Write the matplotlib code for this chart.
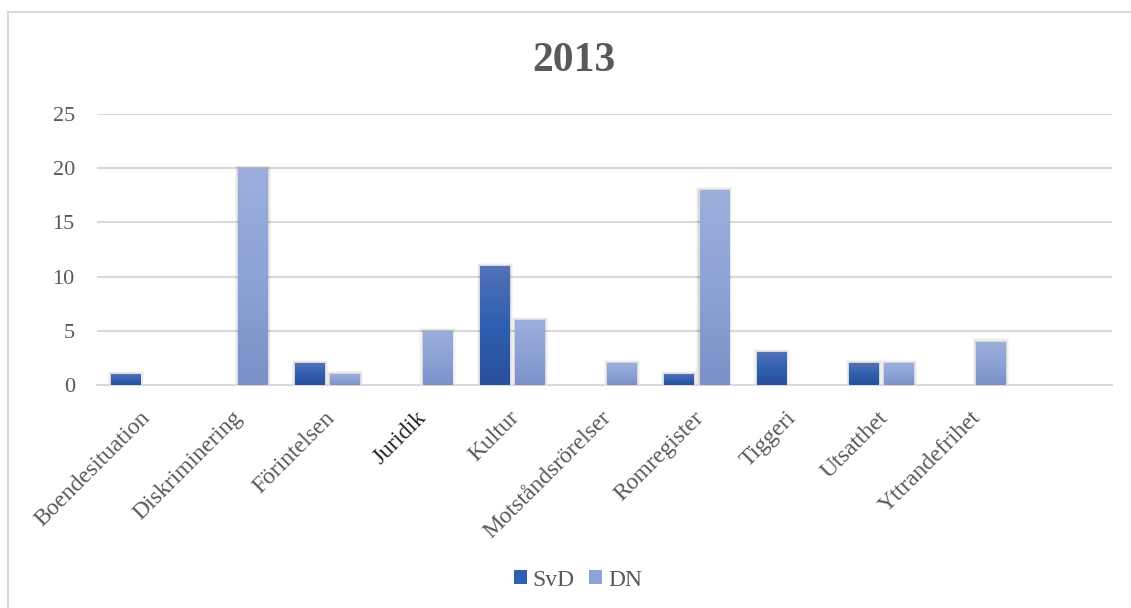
import numpy as np
import matplotlib
matplotlib.use("Agg")
import matplotlib.pyplot as plt
import matplotlib.transforms as mtransforms
from matplotlib.colors import LinearSegmentedColormap
from matplotlib.patches import Rectangle

# data
categories = ["Boendesituation", "Diskriminering", "Förintelsen", "Juridik", "Kultur",
              "Motståndsrörelser", "Romregister", "Tiggeri", "Utsatthet", "Yttrandefrihet", ""]
svd = [1, 0, 2, 0, 11, 0, 1, 3, 2, 0, 0]
dn = [0, 20, 1, 5, 6, 2, 18, 0, 2, 4, 0]
yticks = [0, 5, 10, 15, 20, 25]

plt.rcParams["font.family"] = ["Liberation Serif", "DejaVu Serif"]
text_col = "#595959"

fig = plt.figure(figsize=(11.31, 6.08), dpi=100)
ax = fig.add_axes([97 / 1131, 1 - 385 / 608, (1112 - 97) / 1131, (385 - 114) / 608])

x = np.arange(len(categories))
w = 0.32
off = 0.19

svd_cmap = LinearSegmentedColormap.from_list("svd", ["#2a4f9c", "#2f5fb0", "#5472b8"])
dn_cmap = LinearSegmentedColormap.from_list("dn", ["#7b90c6", "#8da2d6", "#9cafdb"])


def draw_bars(xs, vals, cmap, base):
    bars = ax.bar(xs, vals, w, color=base, zorder=3, linewidth=0)
    for b in bars:
        h = b.get_height()
        if h <= 0:
            continue
        x0 = b.get_x()
        # soft shadow around the bar
        for k, a in enumerate([0.08, 0.05, 0.03]):
            d = 0.012 * (k + 1)
            ax.add_patch(Rectangle((x0 - d, 0), w + 2 * d, h + 0.1 * (k + 1),
                                   color="#000000", alpha=a, lw=0, zorder=2))
        grad = np.linspace(0, 1, 256).reshape(-1, 1)
        im = ax.imshow(grad, cmap=cmap, aspect="auto", origin="lower",
                       extent=[x0, x0 + w, 0, h], zorder=4)
        im.set_clip_path(b)
    return bars


b1 = draw_bars(x - off, svd, svd_cmap, "#2f5fb0")
b2 = draw_bars(x + off, dn, dn_cmap, "#8da2d6")

ax.set_xlim(-0.5, len(categories) - 0.5)
ax.set_ylim(0, 25)
ax.set_yticks(yticks)
ax.yaxis.grid(True, color="#d9d9d9", lw=1.5, zorder=0)
ax.set_axisbelow(True)
for s in ["top", "right", "left"]:
    ax.spines[s].set_visible(False)
ax.spines["bottom"].set_color("#d9d9d9")
ax.spines["bottom"].set_linewidth(1.5)
ax.tick_params(axis="y", length=0, pad=16, labelsize=16, labelcolor=text_col)
ax.tick_params(axis="x", length=0, pad=16)
ax.set_xticks(x)
ax.set_xticklabels(categories, rotation=45, ha="right", va="top", rotation_mode="anchor",
                   fontsize=17, color=text_col)
shift = mtransforms.ScaledTranslation(-4 / 100, 0, fig.dpi_scale_trans)
for lbl in ax.get_xticklabels():
    lbl.set_transform(lbl.get_transform() + shift)
    if lbl.get_text() == "Juridik":
        lbl.set_color("#262626")

fig.text(574 / 1131, 1 - 61 / 608, "2013", ha="center", va="center",
         fontsize=30, fontweight="bold", color=text_col)

leg = fig.legend([b1, b2], ["SvD", "DN"], loc="center", ncol=2,
                 bbox_to_anchor=(578 / 1131, 1 - 580 / 608), frameon=False,
                 fontsize=17, handlelength=0.55, handleheight=0.55,
                 handletextpad=0.25, columnspacing=0.6, labelcolor=text_col)

# chart-area frame (only left and top edges visible in crop)
fig.add_artist(plt.Line2D([7.5 / 1131, 7.5 / 1131], [1 - 11.5 / 608, 0], color="#d9d9d9",
                          lw=1.5, transform=fig.transFigure))
fig.add_artist(plt.Line2D([7.5 / 1131, 1], [1 - 11.5 / 608, 1 - 11.5 / 608], color="#d9d9d9",
                          lw=1.5, transform=fig.transFigure))

fig.savefig("out.png", dpi=100)
